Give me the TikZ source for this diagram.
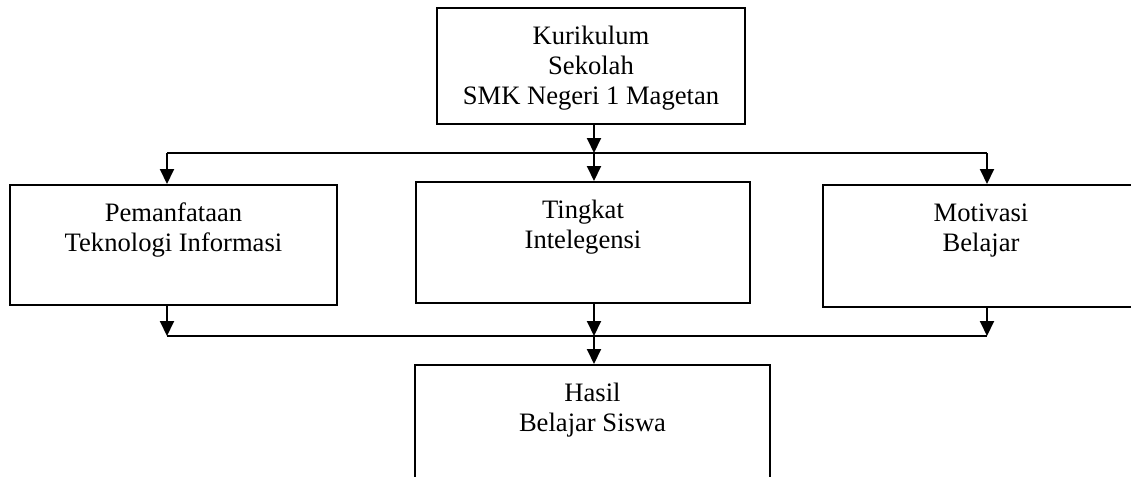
\documentclass[tikz,border=0pt]{standalone}
\usepackage{fontspec}
\setmainfont{Liberation Serif}
\usetikzlibrary{arrows.meta}
\tikzset{
  box/.style  = {draw, line width=1pt, rectangle, inner sep=0pt,
                 font=\fontsize{13.3}{15}\selectfont},
  link/.style = {line width=1pt}
}
\newcommand{\boxtext}[3]{\parbox[t][#2][t]{#1}{\centering\rule{0pt}{18pt}#3}}

\begin{document}
\begin{tikzpicture}[x=0.5pt, y=-0.5pt,
  >={Triangle[width=7pt,length=7.5pt]}]
\clip (0,0) rectangle (1131,477);

% the school curriculum on top
\node[box] (kur) at (591,66) {\boxtext{154pt}{58pt}{Kurikulum\\Sekolah\\SMK Negeri 1 Magetan}};

% the three factors in the middle row
\node[box] (tik)   at (173.5,245) {\boxtext{163.5pt}{60pt}{Pemanfataan\\Teknologi Informasi}};
\node[box] (intel) at (583,242.5) {\boxtext{167pt}{60.5pt}{Tingkat\\Intelegensi}};
\node[box] (mot)   at (981,246)   {\boxtext{158pt}{61pt}{Motivasi\\Belajar}};

% the result at the bottom
\node[box] (hasil) at (592.5,425) {\boxtext{177.5pt}{60pt}{Hasil\\Belajar Siswa}};

% junctions on the two horizontal lines
\coordinate (t1) at (167,153);
\coordinate (t2) at (594,153);
\coordinate (t3) at (987,153);
\coordinate (b1) at (167,336);
\coordinate (b2) at (594,336);
\coordinate (b3) at (987,336);

\draw[link] (t1) -- (t3);
\draw[link] (b1) -- (b3);
\draw[link,->] (t2 |- kur.south) -- (t2);
\draw[link,->] (b2) -- (b2 |- hasil.north);

% lines into and out of every factor
\foreach \f/\i in {tik/1, intel/2, mot/3} {
  \draw[link,->] (t\i) -- (t\i |- \f.north);
  \draw[link,->] (t\i |- \f.south) -- (b\i);
}
\end{tikzpicture}
\end{document}
